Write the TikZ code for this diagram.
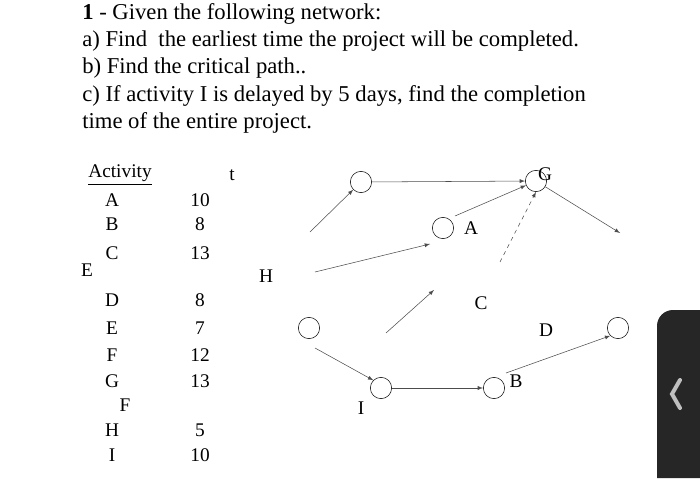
\documentclass[tikz,border=0pt]{standalone}
\usepackage{fontspec}
\setmainfont{Liberation Serif}
\begin{document}
\begin{tikzpicture}[x=0.75pt,y=-0.75pt,
  ttl/.style={anchor=west,inner sep=0,font=\fontsize{17}{20}\selectfont},
  tb/.style={inner sep=0,font=\fontsize{14.5}{17}\selectfont},
  ev/.style={circle,draw,minimum size=16pt,inner sep=0},
  ar/.style={draw=black!70,-latex},
  lb/.style={inner sep=0,font=\fontsize{14.5}{17}\selectfont}]
\useasboundingbox (0,0) rectangle (700,485);
\node[ttl] (t1) at (82,14) {\textbf{1} - Given the following network:};
\node[ttl] (t2) at (82,41) {a) Find \ the earliest time the project will be completed.};
\node[ttl] (t3) at (82,68) {b) Find the critical path..};
\node[ttl] (t4) at (82,96) {c) If activity I is delayed by 5 days, find the completion};
\node[ttl] (t5) at (82,123) {time of the entire project.};
% table
\node[tb] (hA) at (120,175) {\underline{Activity}};
\node[tb] (ht) at (232,175) {t};
\foreach \l/\y/\v [count=\i] in {A/200/10,B/224/8,C/253/13,D/300/8,E/328/7,F/355/12,G/381/13,H/430/5,I/455/10}{
  \node[tb] (r\i) at (112,\y) {\l};
  \node[tb] (v\i) at (200,\y) {\v};
}
\node[tb] (xe) at (87,270) {E};
\node[tb] (xf) at (125,405) {F};
% network
\node[ev] (n1) at (361,182) {};
\node[ev] (nG) at (536,181) {};
\node[ev] (nA) at (443,228) {};
\node[ev] (nL) at (309,328) {};
\node[ev] (nI) at (381,388) {};
\node[ev] (nB) at (494,388) {};
\node[ev] (nR) at (618,328) {};
\coordinate (p1) at (310,232);
\coordinate (p2) at (620,233);
\coordinate (p3) at (315,272);
\coordinate (p4) at (430,244);
\coordinate (p5) at (500,262);
\coordinate (p6) at (386,333);
\coordinate (p7) at (434,290);
\coordinate (qA) at (455,216);
\coordinate (qL) at (315,348);
\coordinate (qB) at (506,373);
\draw[ar] (p1) -- (n1);
\draw[ar] (n1) -- (nG);
\draw[ar] (qA) -- (nG);
\draw[ar] (nG) -- (p2);
\draw[ar] (p3) -- (p4);
\draw[ar,dashed] (p5) -- (nG.south);
\draw[ar] (p6) -- (p7);
\draw[ar] (qL) -- (nI.north west);
\draw[ar] (nI) -- (nB);
\draw[ar] (qB) -- (nR.south west);
\node[lb] (lA) at (471,228) {A};
\node[lb] (lC) at (481,303) {C};
\node[lb] (lD) at (546,330) {D};
\node[lb] (lB) at (516,381) {B};
\node[lb] (lI) at (361,408) {I};
\node[lb] (lG) at (545,174) {G};
\node[lb] (lH) at (266,276) {H};
% side tab
\fill[black!85] (657,478) -- (657,326) arc (180:270:16) -- (700,310) -- (700,478) -- cycle;
\draw[black!25,line width=3pt,line cap=round] (680,380) -- (672,394) -- (680,408);
\end{tikzpicture}
\end{document}
